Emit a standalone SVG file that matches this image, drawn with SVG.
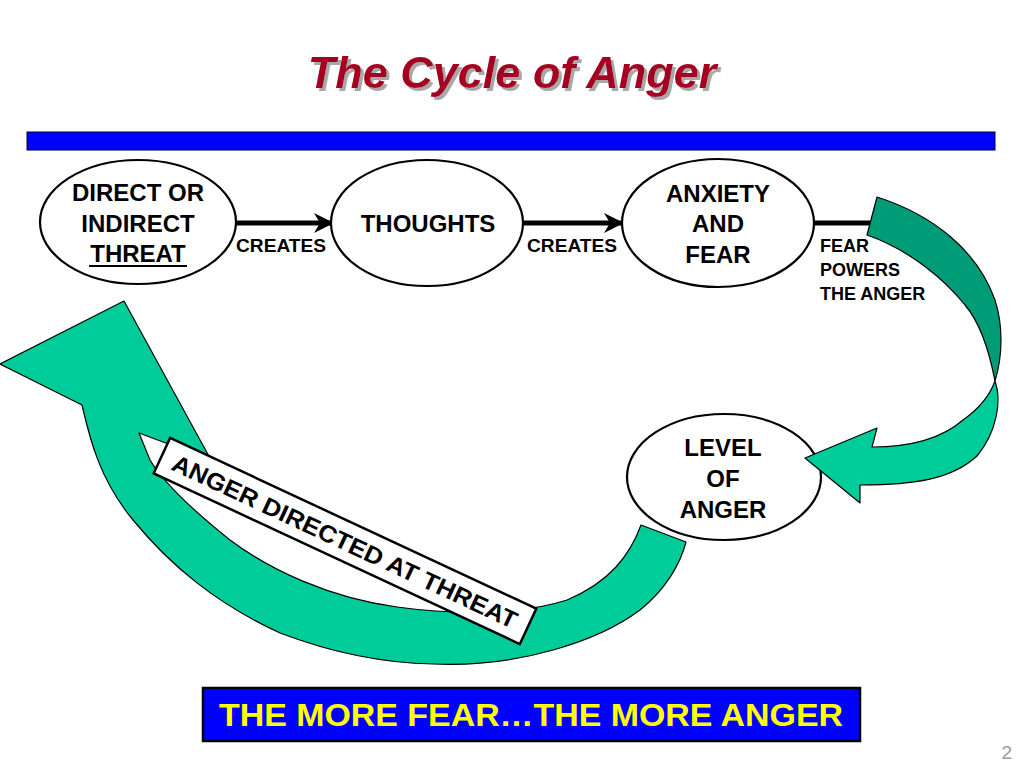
<svg xmlns="http://www.w3.org/2000/svg" width="1024" height="768" viewBox="0 0 1024 768">
<defs>
<style>
.node{fill:#fff;stroke:#000;stroke-width:2.2}
.nt{font-family:"Liberation Sans",Arial,sans-serif;font-weight:bold;font-size:24px;fill:#000;text-anchor:middle}
.lbl{font-family:"Liberation Sans",Arial,sans-serif;font-weight:bold;font-size:18px;fill:#000}
.conn{stroke:#000;stroke-width:5;fill:none}
.green{fill:#00CC99;stroke:#000;stroke-width:1.2;stroke-linejoin:round}
.dark{fill:#009B77;stroke:#000;stroke-width:1.2;stroke-linejoin:round}
</style>
<filter id="shadow" x="-5%" y="-20%" width="110%" height="140%">
<feOffset in="SourceAlpha" dx="3" dy="3" result="off"/>
<feFlood flood-color="#A8A8A8"/>
<feComposite in2="off" operator="in" result="sh"/>
<feMerge><feMergeNode in="sh"/><feMergeNode in="SourceGraphic"/></feMerge>
</filter>
<marker id="ah" markerWidth="20" markerHeight="20" viewBox="0 0 20 20" refX="18" refY="10" orient="auto" markerUnits="userSpaceOnUse">
<path d="M0,0 L20,10 L0,20 L6,10 Z" fill="#000"/>
</marker>
</defs>
<rect width="1024" height="768" fill="#fff"/>

<g id="title">
<text x="512" y="88" font-family="Liberation Sans,Arial,sans-serif" font-weight="bold" font-style="italic" font-size="45" fill="#A50021" text-anchor="middle" filter="url(#shadow)">The Cycle of Anger</text>
</g>
<rect id="bar" x="27" y="132" width="968" height="18" fill="#0000FF" stroke="#000044" stroke-width="1"/>

<g id="connectors">
<line class="conn" x1="236" y1="223" x2="332" y2="223" marker-end="url(#ah)"/>
<line class="conn" x1="523" y1="223" x2="622" y2="223" marker-end="url(#ah)"/>
<line class="conn" x1="815" y1="223" x2="875" y2="223"/>
<text class="lbl" x="236" y="252" textLength="90" lengthAdjust="spacingAndGlyphs">CREATES</text>
<text class="lbl" x="527" y="252" textLength="90" lengthAdjust="spacingAndGlyphs">CREATES</text>
<text class="lbl" x="820" y="252">FEAR</text>
<text class="lbl" x="820" y="276">POWERS</text>
<text class="lbl" x="820" y="300">THE ANGER</text>
</g>

<g id="anger-arrow">
<path class="green" d="M124,301 L0,364 L82,405 C90,440 100,480 133,520 C170,565 215,603 280,633 C330,652 380,663 433,664 C520,668 600,640 640,610 C665,590 680,565 686,542 L641,525 C630,555 610,582 567,600 C530,612 470,617 397,607 C330,598 270,570 230,540 C195,512 165,485 150,460 L139,433 L211,460 Z"/>
<g id="label-anger-directed" transform="translate(345,541) rotate(25)">
<rect x="-202" y="-19.5" width="404" height="39" fill="#fff" stroke="#000" stroke-width="2.5"/>
<text x="0" y="9" class="nt" font-size="25" textLength="378" lengthAdjust="spacingAndGlyphs">ANGER DIRECTED AT THREAT</text>
</g>
</g>

<g id="node-threat">
<ellipse class="node" cx="138" cy="222" rx="98" ry="62"/>
<text class="nt" x="138" y="201">DIRECT OR</text>
<text class="nt" x="138" y="232">INDIRECT</text>
<text class="nt" x="138" y="262">THREAT</text>
<line x1="89" y1="266" x2="187" y2="266" stroke="#000" stroke-width="2"/>
</g>
<g id="node-thoughts">
<ellipse class="node" cx="427" cy="223" rx="96" ry="63"/>
<text class="nt" x="428" y="232">THOUGHTS</text>
</g>
<g id="node-anxiety">
<ellipse class="node" cx="718" cy="223" rx="96" ry="64"/>
<text class="nt" x="718" y="202">ANXIETY</text>
<text class="nt" x="718" y="232">AND</text>
<text class="nt" x="718" y="263">FEAR</text>
</g>
<g id="node-level">
<ellipse class="node" cx="724" cy="477" rx="97" ry="63"/>
<text class="nt" x="723" y="456">LEVEL</text>
<text class="nt" x="723" y="487">OF</text>
<text class="nt" x="723" y="518">ANGER</text>
</g>

<g id="fear-arrow">
<path class="dark" d="M877,197 C933,215 977,250 995,300 C1003,325 1003,355 995,381 C990,355 982,325 965,305 C945,280 910,250 867,235 Z"/>
<path class="green" d="M995,381 C1002,400 997,432 977,456 C952,479 915,485 860,485 L860,503 L805,458 L877,428 L872,447 C905,447 940,440 963,420 C980,408 990,395 995,381 Z"/>
</g>

<g id="banner">
<rect x="203" y="688" width="657" height="53" fill="#0000FF" stroke="#000" stroke-width="2.5"/>
<text x="531" y="726" font-family="Liberation Sans,Arial,sans-serif" font-weight="bold" font-size="31" fill="#FFFF00" text-anchor="middle" textLength="624" lengthAdjust="spacingAndGlyphs">THE MORE FEAR…THE MORE ANGER</text>
</g>
<text id="page" x="1012" y="759" font-family="Liberation Sans,Arial,sans-serif" font-size="19" fill="#999" text-anchor="end">2</text>
</svg>
